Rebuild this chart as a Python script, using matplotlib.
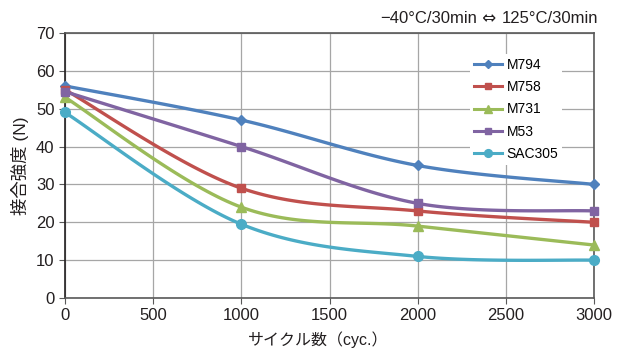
import numpy as np
import matplotlib
matplotlib.use("Agg")
import matplotlib.pyplot as plt
from matplotlib.lines import Line2D

plt.rcParams['font.family'] = ['Liberation Sans', 'Noto Sans CJK JP', 'DejaVu Sans']

cycles = [0, 1000, 2000, 3000]
series_names = ["M794", "M758", "M731", "M53", "SAC305"]
m794 = [56, 47, 35, 30]
m758 = [55, 29, 23, 20]
m731 = [53, 24, 19, 14]
m53 = [54.5, 40, 25, 23]
sac305 = [49, 19.5, 11, 10]
colors = ["#4F81BD", "#C0504D", "#9BBB59", "#8064A2", "#4BACC6"]
markers = ["D", "s", "^", "s", "o"]
msizes = [5.5, 6, 7, 6, 7]
xticks = [0, 500, 1000, 1500, 2000, 2500, 3000]
yticks = [0, 10, 20, 30, 40, 50, 60, 70]


def smooth(x, y, n=40):
    x = np.asarray(x, float); y = np.asarray(y, float)
    px = np.concatenate([[x[0]], x, [x[-1]]])
    py = np.concatenate([[y[0]], y, [y[-1]]])
    xs, ys = [], []
    t = np.linspace(0, 1, n)
    for i in range(1, len(px) - 2):
        p0 = np.array([px[i], py[i]])
        p3 = np.array([px[i + 1], py[i + 1]])
        p1 = p0 + (np.array([px[i + 1], py[i + 1]]) - np.array([px[i - 1], py[i - 1]])) / 6
        p2 = p3 - (np.array([px[i + 2], py[i + 2]]) - np.array([px[i], py[i]])) / 6
        b = ((1 - t) ** 3)[:, None] * p0 + (3 * (1 - t) ** 2 * t)[:, None] * p1 + \
            (3 * (1 - t) * t ** 2)[:, None] * p2 + (t ** 3)[:, None] * p3
        xs.extend(b[:, 0]); ys.extend(b[:, 1])
    return np.array(xs), np.array(ys)


fig = plt.figure(figsize=(6.22, 3.54), dpi=100)
ax = fig.add_axes([0.1045, 0.158, 0.8505, 0.749])

handles = []
for name, vals, c, m, ms in zip(series_names, [m794, m758, m731, m53, sac305], colors, markers, msizes):
    sx, sy = smooth(cycles, vals)
    ax.plot(sx, sy, color=c, lw=2.4, zorder=3)
    ax.plot(cycles, vals, linestyle='none', marker=m, ms=ms, color=c, zorder=4, clip_on=False)
    handles.append(Line2D([0], [0], color=c, lw=2.2, marker=m, ms=ms * 0.8))

ax.set_xlim(0, 3000)
ax.set_ylim(0, 70)
ax.set_xticks(xticks)
ax.set_yticks(yticks)
ax.grid(True, color="#a6a6a6", lw=0.9)
ax.set_axisbelow(True)
for s in ax.spines.values():
    s.set_color("#595959")
    s.set_linewidth(1.2)
ax.spines['left'].set_color("#231f20")
ax.tick_params(axis='both', labelsize=12, length=4, color="#595959", labelcolor="#231f20")

ax.set_xlabel("サイクル数（cyc.）", fontsize=11.5, color="#231f20")
ax.xaxis.set_label_coords(0.478, -0.125)
ax.set_ylabel("接合強度 (N)", fontsize=12.5, color="#231f20", labelpad=5)

t1 = fig.text(0.962, 0.948, "125°C/30min", ha='right', va='center', fontsize=12, color="#231f20")
t2 = ax.annotate(" ⇔ ", xy=(0, 0.5), xycoords=t1, ha='right', va='center', fontsize=12,
                 color="#231f20", family='DejaVu Sans', annotation_clip=False)
t3 = ax.annotate("−40°C/30min", xy=(0, 0.5), xycoords=t2, ha='right', va='center', fontsize=12,
                 color="#231f20", annotation_clip=False)

leg = ax.legend(handles, series_names, loc='upper left', bbox_to_anchor=(0.753, 0.948),
                fontsize=10, frameon=True, framealpha=1, edgecolor='none', handlelength=2.0,
                labelspacing=0.6, borderpad=0.3, handletextpad=0.3, fancybox=False)
leg.set_zorder(5)

fig.savefig("out.png", dpi=100)
